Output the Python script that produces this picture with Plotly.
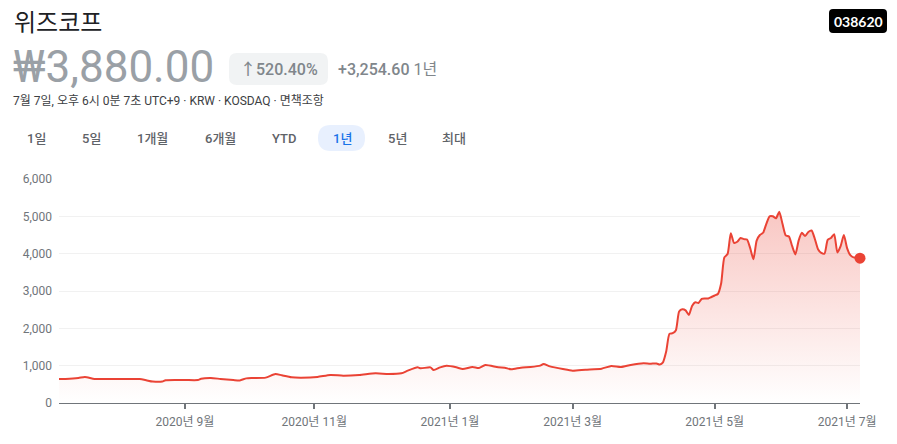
import plotly.graph_objects as go

# ---------------- data ----------------
dates = [
    "2020-07-07", "2020-07-09", "2020-07-15", "2020-07-17", "2020-07-22", "2020-07-28",
    "2020-08-04", "2020-08-11", "2020-08-13", "2020-08-18", "2020-08-21", "2020-08-24",
    "2020-09-01", "2020-09-07", "2020-09-08", "2020-09-11", "2020-09-16", "2020-09-22",
    "2020-09-24", "2020-09-28", "2020-10-05", "2020-10-12", "2020-10-15", "2020-10-19",
    "2020-10-22", "2020-10-27", "2020-11-03", "2020-11-09", "2020-11-13", "2020-11-20",
    "2020-11-27", "2020-12-03", "2020-12-09", "2020-12-11", "2020-12-16", "2020-12-17",
    "2020-12-22", "2020-12-23", "2020-12-28", "2020-12-30", "2021-01-06", "2021-01-08",
    "2021-01-13", "2021-01-15", "2021-01-19", "2021-01-25", "2021-01-27", "2021-01-29",
    "2021-02-03", "2021-02-08", "2021-02-15", "2021-02-16", "2021-02-18", "2021-02-24",
    "2021-03-02", "2021-03-08", "2021-03-15", "2021-03-18", "2021-03-23", "2021-03-26",
    "2021-04-01", "2021-04-05", "2021-04-07", "2021-04-08", "2021-04-09", "2021-04-12",
    "2021-04-13", "2021-04-14", "2021-04-15", "2021-04-16", "2021-04-19", "2021-04-20",
    "2021-04-21", "2021-04-22", "2021-04-23", "2021-04-26", "2021-04-27", "2021-04-28",
    "2021-04-29", "2021-04-30", "2021-05-03", "2021-05-04", "2021-05-06", "2021-05-07",
    "2021-05-10", "2021-05-11", "2021-05-12", "2021-05-13", "2021-05-14", "2021-05-17",
    "2021-05-18", "2021-05-20", "2021-05-21", "2021-05-24", "2021-05-25", "2021-05-26",
    "2021-05-27", "2021-05-28", "2021-05-31", "2021-06-01", "2021-06-02", "2021-06-03",
    "2021-06-04", "2021-06-07", "2021-06-08", "2021-06-09", "2021-06-10", "2021-06-11",
    "2021-06-14", "2021-06-15", "2021-06-16", "2021-06-17", "2021-06-18", "2021-06-21",
    "2021-06-22", "2021-06-23", "2021-06-24", "2021-06-25", "2021-06-28", "2021-06-29",
    "2021-06-30", "2021-07-01", "2021-07-02", "2021-07-05", "2021-07-06", "2021-07-07",
]
prices = [
    640, 645, 670, 697, 645, 640,
    640, 640, 610, 575, 575, 610,
    615, 615, 650, 670, 645, 615,
    605, 660, 670, 680, 777, 741,
    688, 679, 697, 750, 732, 750,
    795, 777, 795, 866, 955, 928,
    955, 884, 955, 995, 955, 910,
    964, 937, 1018, 955, 946, 902,
    946, 964, 1000, 1045, 982, 910,
    866, 893, 920, 991, 964, 1018,
    1062, 1050, 1060, 1030, 1090, 1380,
    1850, 1870, 1950, 2450, 2510, 2480,
    2360, 2600, 2700, 2680, 2790, 2800,
    2800, 2840, 2880, 2920, 3200, 3900,
    3990, 4550, 4290, 4320, 4420, 4390,
    4380, 4150, 3850, 4350, 4500, 4560,
    4800, 5000, 5000, 4950, 5120, 4800,
    4490, 4460, 4200, 3980, 4350, 4560,
    4470, 4580, 4620, 4400, 4120, 4020,
    4000, 4370, 4420, 4520, 4030, 4200,
    4500, 4150, 3960, 3900, 3900, 3880,
]
market_holidays = [
    "2020-08-17", "2020-09-30", "2020-10-01", "2020-10-02", "2020-10-09",
    "2020-12-25", "2020-12-31", "2021-01-01", "2021-02-11", "2021-02-12",
    "2021-03-01", "2021-05-05", "2021-05-19",
]
tick_dates = ["2020-09-01", "2020-11-02", "2021-01-04", "2021-03-02", "2021-05-03", "2021-07-01"]
tick_labels = ["2020년 9월", "2020년 11월", "2021년 1월", "2021년 3월", "2021년 5월", "2021년 7월"]
y_ticks = [0, 1000, 2000, 3000, 4000, 5000, 6000]

title = "위즈코프"
price_text = "₩3,880.00"
change_pct = "↑520.40%"
change_abs = "+3,254.60"
period = "1년"
subtitle = "7월 7일, 오후 6시 0분 7초 UTC+9 · KRW · KOSDAQ · 면책조항"
ticker = "038620"
ranges = ["1일", "5일", "1개월", "6개월", "YTD", "1년", "5년", "최대"]

# ---------------- layout helpers ----------------
W, H = 897, 444
L, R, T, B = 59, 37, 179, 41
PW, PH = W - L - R, H - T - B
RED = "#ea4335"
FONT = "Roboto, 'Noto Sans CJK KR', sans-serif"


def PX(x):
    return (x - L) / PW


def PY(y):
    return (H - B - y) / PH


def rrect(x0, y0, x1, y1, r):
    pts = [
        ("M", [(x0 + r, y0)]), ("L", [(x1 - r, y0)]), ("Q", [(x1, y0), (x1, y0 + r)]),
        ("L", [(x1, y1 - r)]), ("Q", [(x1, y1), (x1 - r, y1)]), ("L", [(x0 + r, y1)]),
        ("Q", [(x0, y1), (x0, y1 - r)]), ("L", [(x0, y0 + r)]), ("Q", [(x0, y0), (x0 + r, y0)]),
    ]
    s = ""
    for cmd, ps in pts:
        s += cmd + " " + " ".join(f"{PX(a):.5f},{PY(b):.5f}" for a, b in ps) + " "
    return s + "Z"


fig = go.Figure()
fig.add_trace(go.Scatter(
    x=dates, y=prices, mode="lines",
    line=dict(color=RED, width=2, shape="spline", smoothing=0.6),
    fill="tozeroy",
    fillgradient=dict(type="vertical",
                      colorscale=[[0, "rgba(234,67,53,0)"], [1, "rgba(234,67,53,0.30)"]],
                      start=0, stop=5200),
    hoverinfo="skip",
))
fig.add_trace(go.Scatter(
    x=[dates[-1]], y=[prices[-1]], mode="markers",
    marker=dict(color=RED, size=11), cliponaxis=False, hoverinfo="skip",
))

shapes = [
    dict(type="path", xref="paper", yref="paper", path=rrect(229, 53, 328, 85, 8),
         fillcolor="#f1f3f4", line=dict(width=0), layer="below"),
    dict(type="path", xref="paper", yref="paper", path=rrect(829, 9, 887, 33, 4),
         fillcolor="#000000", line=dict(width=0)),
    dict(type="path", xref="paper", yref="paper", path=rrect(318, 125, 365, 151, 13),
         fillcolor="#e8f0fe", line=dict(width=0), layer="below"),
]

ann = []


def add_text(text, x, y, size, color, xanchor="left", weight=400, family=FONT):
    ann.append(dict(text=text, x=PX(x), y=PY(y), xref="paper", yref="paper",
                    xanchor=xanchor, yanchor="middle", showarrow=False,
                    font=dict(family=family, size=size, color=color, weight=weight)))


add_text(title, 12, 23, 24, "#202124")
add_text(price_text, 11, 67, 44, "#9aa0a6")
add_text(change_pct, 279, 69, 16, "#80868b", "center", 500)
add_text(change_abs + " <span style='font-weight:400'>" + period + "</span>",
         336, 69, 16, "#80868b", "left", 500)
add_text(subtitle, 11, 100, 12, "#3c4043")
add_text(ticker, 858, 21, 14, "#ffffff", "center", 700, "Lato, Roboto, sans-serif")

range_x = [36, 91, 152, 220, 284, 342, 397, 454]
for lab, xc in zip(ranges, range_x):
    col = "#1a73e8" if lab == period else "#5f6368"
    add_text(lab, xc, 138, 13, col, "center", 500)

fig.update_layout(
    width=W, height=H,
    margin=dict(l=L, r=R, t=T, b=B, pad=0),
    paper_bgcolor="white", plot_bgcolor="white",
    showlegend=False, hovermode=False,
    shapes=shapes, annotations=ann,
    font=dict(family=FONT),
)
fig.update_xaxes(
    type="date", range=[dates[0], dates[-1]],
    rangebreaks=[dict(bounds=["sat", "mon"]), dict(values=market_holidays)],
    tickvals=tick_dates, ticktext=tick_labels,
    showgrid=False, zeroline=False,
    showline=True, linecolor="#70757a", linewidth=1,
    ticks="outside", ticklen=5, tickwidth=2, tickcolor="#70757a",
    tickfont=dict(size=12, color="#70757a", family=FONT),
    ticklabelstandoff=3,
)
fig.update_yaxes(
    range=[0, 6000], tickvals=y_ticks, tickformat=",",
    showgrid=True, gridcolor="#f1f1f1", gridwidth=1,
    zeroline=False, showline=False, ticks="",
    tickfont=dict(size=12, color="#70757a", family=FONT),
    ticklabelstandoff=6,
)

fig.write_html("out.html")
